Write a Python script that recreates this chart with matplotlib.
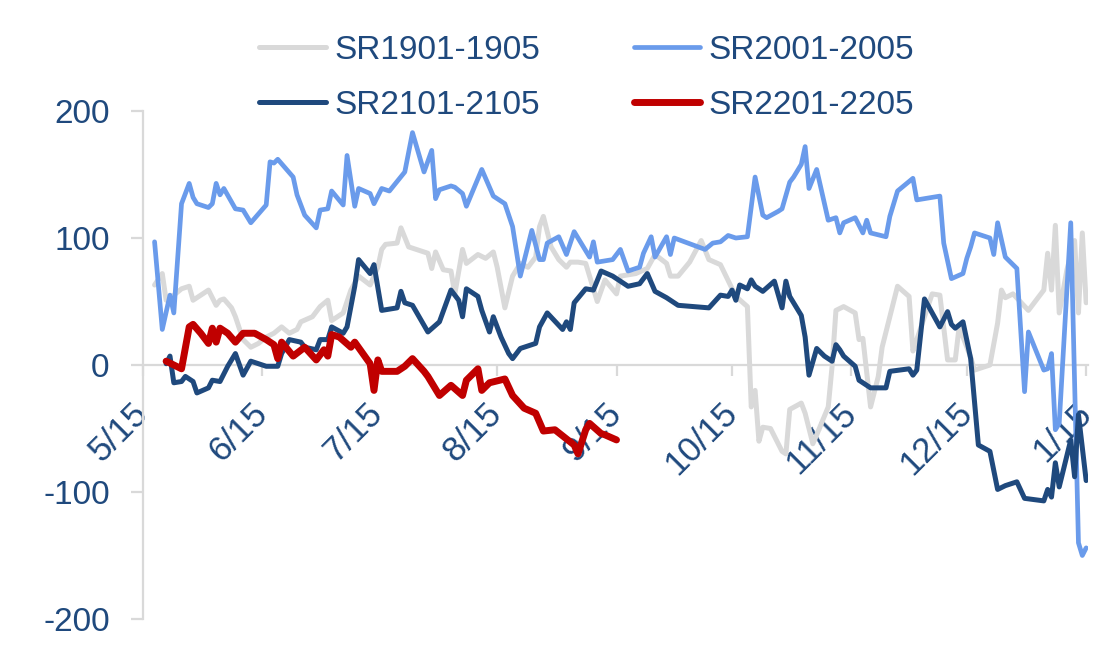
import matplotlib
matplotlib.use("Agg")
import matplotlib.pyplot as plt
import pandas as pd

# seasonal axis: day offset counted from 5/15
BASE = pd.Timestamp("2021-05-15")

sr1901_day = [3, 5, 6, 8, 10, 12, 13, 17, 19, 20, 21, 23, 24, 26, 28, 30, 32, 34, 36, 38,
              40, 41, 44, 46, 48, 49, 52, 54, 56, 59, 61, 62, 63, 66, 67, 69, 71, 74, 75, 76,
              78, 80, 81, 83, 84, 87, 89, 91, 92, 94, 96, 98, 100, 102, 103, 104, 106, 108, 110, 111,
              113, 115, 118, 120, 123, 124, 128, 131, 133, 136, 137, 139, 142, 145, 147, 150, 154, 157, 158, 159,
              160, 161, 163, 166, 167, 168, 171, 172, 174, 175, 178, 179, 180, 182, 185, 186, 187, 189, 191, 192,
              196, 199, 200, 201, 205, 207, 209, 211, 212, 215, 216, 220, 222, 223, 224, 226, 230, 234, 235, 236,
              237, 238, 240, 242, 243, 244, 245]
sr1901_val = [63, 72, 51, 55, 60, 62, 51, 59, 47, 51, 52, 45, 38, 20, 14, 17, 22, 25, 30, 25,
              28, 34, 38, 46, 51, 35, 41, 59, 70, 63, 77, 91, 95, 96, 108, 93, 91, 88, 76, 89,
              75, 74, 56, 91, 80, 87, 84, 89, 77, 45, 70, 80, 77, 85, 109, 117, 93, 83, 77, 81,
              81, 80, 50, 67, 56, 70, 72, 76, 87, 80, 70, 70, 81, 98, 83, 79, 54, 46, -33, -20,
              -60, -49, -50, -68, -70, -35, -30, -38, -62, -55, -33, -1, 43, 46, 41, 20, 21, -33, -9, 14,
              62, 54, 11, 20, 56, 55, 4, 4, 30, 6, -4, 0, 33, 59, 53, 56, 43, 59, 88, 59,
              110, 41, 75, 98, 41, 104, 49]

sr2001_day = [3, 5, 7, 8, 10, 12, 13, 14, 17, 18, 19, 20, 21, 24, 26, 28, 32, 33, 34, 35,
              39, 40, 42, 45, 46, 48, 49, 52, 53, 55, 56, 59, 60, 62, 64, 68, 70, 73, 75, 76,
              77, 80, 81, 83, 84, 88, 91, 94, 96, 98, 101, 103, 104, 105, 108, 110, 112, 116, 117, 118,
              122, 124, 126, 129, 130, 132, 133, 136, 137, 138, 146, 148, 150, 152, 154, 157, 159, 161, 162, 165,
              166, 168, 169, 171, 172, 173, 175, 178, 180, 181, 182, 185, 187, 188, 189, 193, 194, 196, 200, 201,
              207, 208, 210, 213, 214, 215, 216, 220, 221, 222, 224, 227, 229, 230, 234, 235, 236, 237, 238, 241,
              243, 244, 245]
sr2001_val = [97, 28, 55, 41, 127, 143, 132, 127, 124, 127, 143, 134, 139, 123, 122, 112, 126, 160, 159, 162,
              148, 134, 118, 108, 122, 123, 137, 126, 165, 125, 139, 135, 127, 139, 137, 152, 183, 152, 169, 131,
              138, 141, 140, 135, 125, 154, 133, 127, 109, 70, 106, 83, 83, 96, 101, 87, 105, 85, 97, 81,
              83, 91, 74, 77, 88, 101, 85, 101, 87, 100, 91, 96, 97, 102, 100, 101, 148, 118, 116, 121,
              123, 144, 148, 158, 172, 139, 154, 114, 116, 104, 112, 116, 104, 114, 104, 101, 117, 137, 147, 130,
              133, 96, 68, 72, 84, 93, 104, 100, 87, 112, 85, 76, -21, 26, -4, -3, 9, -51, -46, 112,
              -140, -150, -144]

sr2101_day = [6, 7, 8, 10, 11, 13, 14, 17, 18, 20, 22, 24, 26, 28, 30, 32, 35, 36, 38, 41,
              42, 45, 46, 48, 49, 52, 53, 55, 56, 59, 60, 62, 66, 67, 68, 70, 74, 77, 80, 82,
              83, 84, 87, 88, 90, 91, 93, 95, 96, 97, 98, 102, 103, 105, 109, 110, 111, 112, 115, 117,
              119, 122, 126, 129, 131, 133, 136, 139, 147, 150, 152, 153, 154, 155, 157, 158, 159, 161, 164, 166,
              167, 168, 171, 172, 173, 175, 177, 179, 180, 181, 182, 185, 186, 189, 193, 194, 199, 200, 201, 203,
              207, 209, 210, 211, 213, 215, 217, 220, 222, 224, 227, 229, 234, 235, 236, 237, 238, 241, 242, 243,
              245]
sr2101_val = [1, 7, -14, -13, -9, -13, -22, -18, -12, -13, -1, 9, -8, 3, 1, -1, -1, 9, 20, 18,
              14, 12, 20, 20, 30, 25, 30, 62, 83, 72, 79, 43, 45, 58, 49, 47, 26, 34, 59, 51,
              38, 60, 54, 43, 26, 38, 22, 9, 5, 9, 13, 17, 30, 41, 28, 34, 28, 49, 60, 59,
              74, 70, 62, 64, 72, 58, 53, 47, 45, 55, 54, 59, 51, 63, 60, 67, 62, 58, 66, 45,
              66, 54, 39, 22, -8, 13, 7, 3, 16, 12, 7, -1, -12, -18, -18, -5, -3, -8, -4, 52,
              30, 42, 32, 29, 34, 5, -63, -68, -98, -95, -92, -105, -107, -98, -104, -77, -96, -59, -88, -39,
              -91]

sr2201_day = [6, 10, 12, 13, 15, 17, 18, 19, 20, 22, 24, 26, 29, 32, 34, 35, 36, 39, 42, 45,
              47, 48, 49, 51, 54, 55, 59, 60, 61, 62, 66, 68, 70, 73, 74, 77, 80, 83, 84, 87,
              88, 90, 94, 96, 99, 102, 104, 107, 112, 113, 115, 116, 119, 120, 123]
sr2201_val = [3, -3, 30, 32, 25, 17, 29, 18, 29, 25, 18, 25, 25, 20, 16, 5, 18, 7, 14, 4,
              12, 7, 24, 22, 14, 18, 1, -20, 4, -5, -5, -1, 5, -5, -9, -24, -16, -24, -12, -3,
              -20, -14, -11, -24, -34, -38, -52, -51, -63, -70, -51, -46, -54, -55, -59]

tick_labels = ["5/15", "6/15", "7/15", "8/15", "9/15", "10/15", "11/15", "12/15", "1/15"]
y_ticks = [-200, -100, 0, 100, 200]

TEXT = "#1F497D"
AXIS = "#D9D9D9"
plt.rcParams["font.family"] = ["Liberation Sans", "DejaVu Sans"]
plt.rcParams["axes.unicode_minus"] = False


def _dates(days):
    return BASE + pd.to_timedelta(days, unit="D")


def _tick_date(lbl):
    m, d = (int(p) for p in lbl.split("/"))
    return pd.Timestamp(year=2021 if m >= 5 else 2022, month=m, day=d)


fig = plt.figure(figsize=(11.2, 6.64), dpi=100)
ax = fig.add_axes([0.1277, 0.0678, 0.8438, 0.7650])

series = [
    ("SR1901-1905", sr1901_day, sr1901_val, "#D9D9D9", 3.6),
    ("SR2001-2005", sr2001_day, sr2001_val, "#6A9BEB", 3.4),
    ("SR2101-2105", sr2101_day, sr2101_val, "#1F497D", 3.6),
    ("SR2201-2205", sr2201_day, sr2201_val, "#C00000", 5.0),
]
lines = {}
for name, d, v, c, lw in series:
    ln, = ax.plot(_dates(d), v, color=c, lw=lw, solid_joinstyle="round",
                  solid_capstyle="round", label=name)
    lines[name] = ln

ax.set_ylim(-200, 200)
ax.set_xlim(BASE, BASE + pd.Timedelta(days=245.5))
ax.set_yticks(y_ticks)

for s in ("top", "right"):
    ax.spines[s].set_visible(False)
ax.spines["left"].set_color(AXIS)
ax.spines["left"].set_linewidth(1.6)
ax.spines["bottom"].set_position(("data", 0))
ax.spines["bottom"].set_color(AXIS)
ax.spines["bottom"].set_linewidth(1.6)
ax.spines["bottom"].set_zorder(0.5)

ax.tick_params(axis="x", direction="out", length=8, width=1.6, color=AXIS,
               labelsize=25, labelcolor=TEXT, pad=23)
ax.tick_params(axis="y", direction="out", length=9, width=1.6, color=AXIS,
               labelsize=24, labelcolor=TEXT, pad=15)

ax.set_xticks([_tick_date(t) for t in tick_labels])
ax.set_xticklabels(tick_labels)
for lbl in ax.get_xticklabels():
    lbl.set_rotation(45)
    lbl.set_ha("right")
    lbl.set_va("center")
    lbl.set_rotation_mode("anchor")

order = ["SR1901-1905", "SR2101-2105", "SR2001-2005", "SR2201-2205"]
leg = fig.legend([lines[n] for n in order], order, ncol=2, loc="center",
                 bbox_to_anchor=(0.524, 0.883), frameon=False, fontsize=24,
                 handlelength=2.0, handletextpad=0.25, columnspacing=2.8,
                 labelspacing=0.72, borderpad=0, borderaxespad=0)
for t in leg.get_texts():
    t.set_color(TEXT)

fig.savefig("out.png", dpi=100)
